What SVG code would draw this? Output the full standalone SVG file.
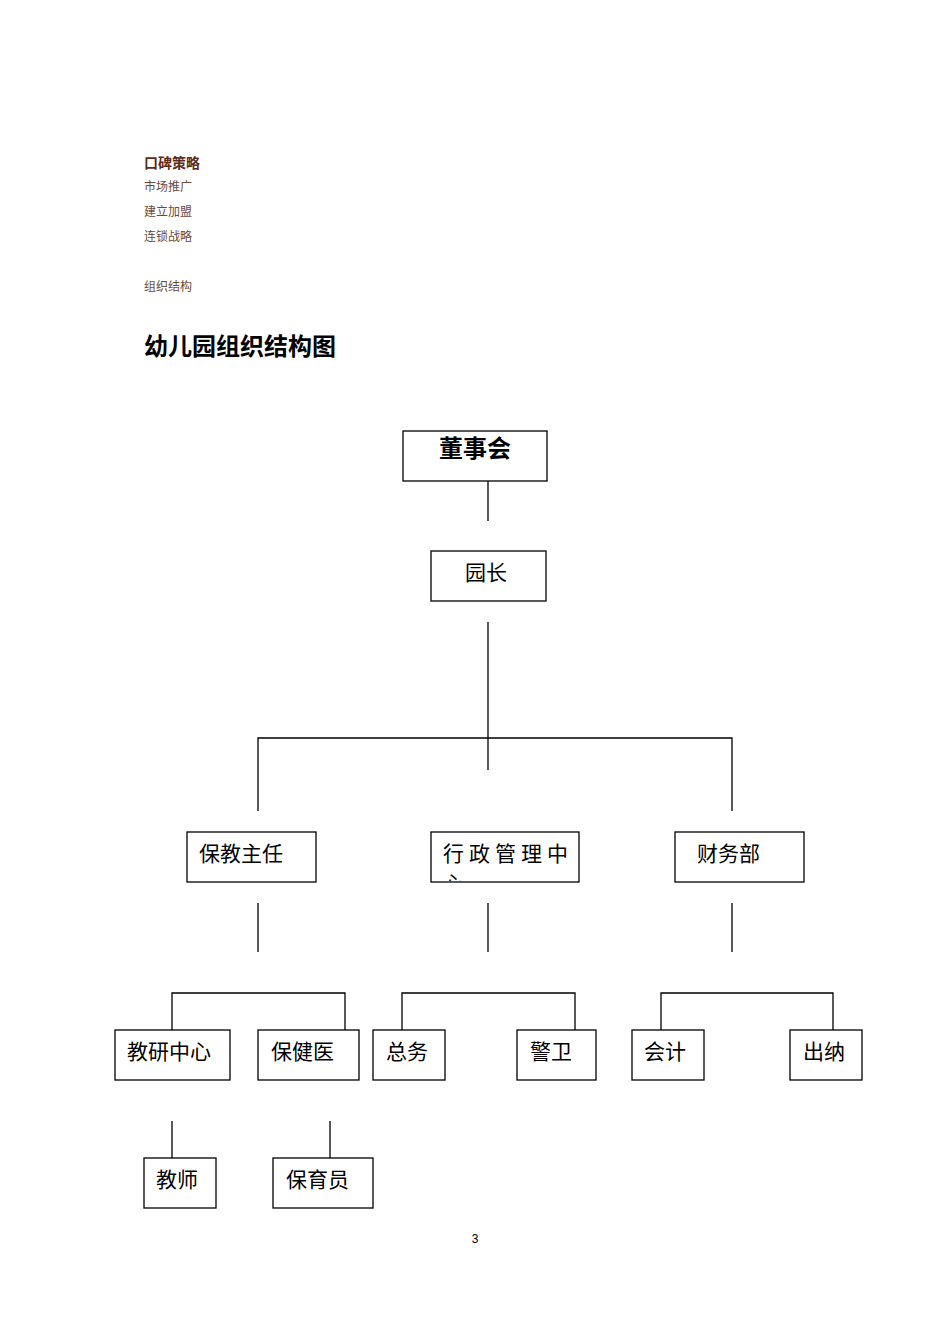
<svg xmlns="http://www.w3.org/2000/svg" width="950" height="1344" viewBox="0 0 950 1344">
<style>
.b{fill:#fff;stroke:#000;stroke-width:1.3}
.t{font-family:"Liberation Serif","Noto Sans CJK SC",serif;font-size:21px;fill:#000}
.s{font-family:"Liberation Serif","Noto Sans CJK SC",serif;font-size:12px;fill:#6b4a3a}
.l{stroke:#000;stroke-width:1.3;fill:none}
</style>
<defs><clipPath id="c"><rect x="432" y="833" width="146" height="48"/></clipPath></defs>
<rect width="950" height="1344" fill="#fff"/>
<text x="144" y="168" font-family="'Noto Sans CJK SC',sans-serif" font-size="14" font-weight="bold" fill="#5a2a1a">口碑策略</text>
<text class="s" x="144" y="191">市场推广</text>
<text class="s" x="144" y="216">建立加盟</text>
<text class="s" x="144" y="241">连锁战略</text>
<text class="s" x="144" y="291">组织结构</text>
<text x="144" y="355" font-family="'Noto Sans CJK SC',sans-serif" font-size="24" font-weight="bold">幼儿园组织结构图</text>
<g id="connectors">
<path class="l" d="M488 481V521M488 622V770M258 811V738H732V811M258 903V952M488 903V952M732 903V952M172 1030V993H345V1030M402 1030V993H575V1030M661 1030V993H833V1030M172 1121V1158M330 1121V1158"/>
</g>
<g id="n1"><rect class="b" x="403" y="431" width="144" height="50"/><text x="475" y="457" text-anchor="middle" font-family="'Noto Sans CJK SC',sans-serif" font-size="24" font-weight="bold">董事会</text></g>
<g id="n2"><rect class="b" x="431" y="551" width="115" height="50"/><text class="t" x="465" y="580">园长</text></g>
<g id="n3"><rect class="b" x="187" y="832" width="129" height="50"/><text class="t" x="199" y="861">保教主任</text></g>
<g id="n4"><rect class="b" x="431" y="832" width="148" height="50"/><g clip-path="url(#c)"><text class="t" x="443" y="861" letter-spacing="5">行政管理中</text><text class="t" x="443" y="891">心</text></g></g>
<g id="n5"><rect class="b" x="675" y="832" width="129" height="50"/><text class="t" x="697" y="861">财务部</text></g>
<g id="n6"><rect class="b" x="115" y="1030" width="115" height="50"/><text class="t" x="127" y="1059">教研中心</text></g>
<g id="n7"><rect class="b" x="258" y="1030" width="101" height="50"/><text class="t" x="271" y="1059">保健医</text></g>
<g id="n8"><rect class="b" x="373" y="1030" width="72" height="50"/><text class="t" x="386" y="1059">总务</text></g>
<g id="n9"><rect class="b" x="517" y="1030" width="79" height="50"/><text class="t" x="530" y="1059">警卫</text></g>
<g id="n10"><rect class="b" x="632" y="1030" width="72" height="50"/><text class="t" x="644" y="1059">会计</text></g>
<g id="n11"><rect class="b" x="790" y="1030" width="72" height="50"/><text class="t" x="803" y="1059">出纳</text></g>
<g id="n12"><rect class="b" x="144" y="1158" width="72" height="50"/><text class="t" x="156" y="1187">教师</text></g>
<g id="n13"><rect class="b" x="273" y="1158" width="100" height="50"/><text class="t" x="286" y="1187">保育员</text></g>
<text x="475" y="1243" text-anchor="middle" font-family="'Liberation Sans',sans-serif" font-size="12">3</text>
</svg>
